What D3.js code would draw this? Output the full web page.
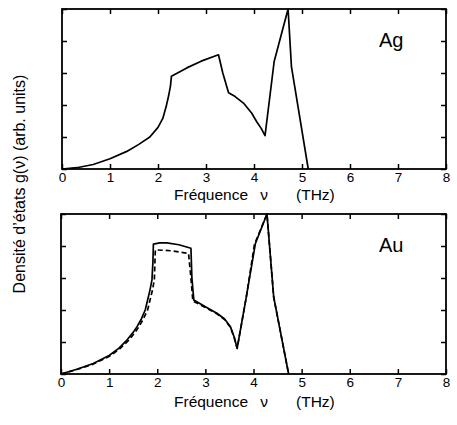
<!DOCTYPE html>
<html>
<head>
<meta charset="utf-8">
<script src="https://cdn.jsdelivr.net/npm/d3@7"></script>
<style>
  body { margin: 0; background: #fff; }
  text { font-family: "Liberation Sans", Arial, sans-serif; fill: #000; }
</style>
</head>
<body>
<div id="chart"></div>
<script>
// Ag phonon density of states (arb. units, 0..5 = frame height)
const agFreq = [0, 0.31, 0.65, 1.0, 1.35, 1.6, 1.83, 2.0, 2.1, 2.17, 2.22, 2.26, 2.28, 2.6, 2.9, 3.26, 3.35, 3.47, 3.6, 3.78, 3.95, 4.06, 4.15, 4.23, 4.42, 4.71, 4.78, 5.13];
const agDos  = [0, 0.04, 0.14, 0.32, 0.55, 0.77, 1.0, 1.3, 1.58, 1.95, 2.28, 2.6, 2.9, 3.16, 3.37, 3.57, 3.0, 2.38, 2.27, 2.06, 1.75, 1.47, 1.27, 1.04, 3.36, 5.0, 3.2, 0];

// Au, solid curve
const auFreq = [0, 0.33, 0.67, 1.0, 1.2, 1.37, 1.5, 1.58, 1.67, 1.75, 1.85, 1.89, 1.91, 1.92, 2.05, 2.2, 2.45, 2.7, 2.72, 2.76, 3.0, 3.24, 3.4, 3.52, 3.6, 3.66, 3.85, 4.04, 4.28, 4.35, 4.42, 4.73];
const auDos  = [0, 0.15, 0.33, 0.58, 0.8, 1.06, 1.3, 1.48, 1.72, 2.0, 2.63, 2.94, 3.5, 4.06, 4.1, 4.1, 4.04, 3.93, 3.0, 2.31, 2.1, 1.9, 1.72, 1.48, 1.15, 0.8, 2.4, 4.08, 5.0, 3.7, 2.4, 0];

// Au, dashed curve
const auDashFreq = [0, 0.33, 0.67, 1.0, 1.2, 1.4, 1.53, 1.62, 1.71, 1.8, 1.9, 1.94, 1.96, 2.3, 2.65, 2.7, 2.74, 3.0, 3.24, 3.4, 3.52, 3.6, 3.66, 3.85, 4.02, 4.28, 4.35, 4.42, 4.73];
const auDashDos  = [0, 0.14, 0.31, 0.55, 0.76, 1.04, 1.28, 1.48, 1.72, 2.0, 2.62, 2.95, 3.88, 3.85, 3.77, 3.0, 2.28, 2.08, 1.88, 1.7, 1.46, 1.13, 0.8, 2.4, 4.05, 5.0, 3.7, 2.4, 0];

const xTicks = [0, 1, 2, 3, 4, 5, 6, 7, 8];
const yTicks = [0, 1, 2, 3, 4, 5];

const width = 457, height = 425;
const svg = d3.select("#chart").append("svg")
    .attr("width", width)
    .attr("height", height);

const panels = [
    {name: "Ag", left: 62, right: 446, top: 9, bottom: 169, pad: 3, titleGap: 31,
     series: [{f: agFreq, g: agDos, dash: null}]},
    {name: "Au", left: 61, right: 446, top: 214, bottom: 374, pad: 3, titleGap: 33,
     series: [{f: auFreq, g: auDos, dash: null}, {f: auDashFreq, g: auDashDos, dash: "5,3"}]}
];

panels.forEach(p => {
    const xScale = d3.scaleLinear().domain([0, 8]).range([p.left, p.right]);
    const yScale = d3.scaleLinear().domain([0, 5]).range([p.bottom, p.top]);

    const g = svg.append("g");

    // axes with inward ticks
    const xBottom = g.append("g")
        .attr("transform", `translate(0,${p.bottom})`)
        .call(d3.axisBottom(xScale).tickValues(xTicks).tickFormat(d3.format("d"))
            .tickSizeInner(-5).tickSizeOuter(0).tickPadding(p.pad));
    xBottom.selectAll("text").style("font-size", "13.5px").style("font-family", "Liberation Sans, Arial, sans-serif");

    g.append("g")
        .attr("transform", `translate(0,${p.top})`)
        .call(d3.axisTop(xScale).tickValues(xTicks).tickFormat("").tickSizeInner(-5).tickSizeOuter(0));
    g.append("g")
        .attr("transform", `translate(${p.left},0)`)
        .call(d3.axisLeft(yScale).tickValues(yTicks).tickFormat("").tickSizeInner(-5).tickSizeOuter(0));
    g.append("g")
        .attr("transform", `translate(${p.right},0)`)
        .call(d3.axisRight(yScale).tickValues(yTicks).tickFormat("").tickSizeInner(-5).tickSizeOuter(0));

    g.selectAll(".domain").remove();
    g.selectAll(".tick line").attr("stroke", "#000").attr("stroke-width", 1.5);

    const line = d3.line()
        .x(d => xScale(d[0]))
        .y(d => yScale(d[1]));

    p.series.forEach(s => {
        g.append("path")
            .attr("d", line(d3.zip(s.f, s.g)))
            .attr("fill", "none")
            .attr("stroke", "#000")
            .attr("stroke-width", 1.7)
            .attr("stroke-linejoin", "round")
            .attr("stroke-dasharray", s.dash);
    });

    g.append("rect")
        .attr("x", p.left).attr("y", p.top)
        .attr("width", p.right - p.left).attr("height", p.bottom - p.top)
        .attr("fill", "none").attr("stroke", "#000").attr("stroke-width", 1.8);

    g.append("text")
        .attr("x", 379).attr("y", p.top + 38)
        .style("font-size", "20px")
        .text(p.name);

    const ty = p.bottom + p.titleGap;
    g.append("text").attr("x", 174).attr("y", ty).style("font-size", "15.5px").text("Fréquence");
    g.append("text").attr("x", 264).attr("y", ty).attr("text-anchor", "middle").style("font-size", "15.5px").text("ν");
    g.append("text").attr("x", 296).attr("y", ty).style("font-size", "15.5px").text("(THz)");
});

svg.append("text")
    .attr("transform", "translate(25,184) rotate(-90)")
    .attr("text-anchor", "middle")
    .style("font-size", "16px")
    .text("Densité d’états g(ν) (arb. units)");
</script>
</body>
</html>
